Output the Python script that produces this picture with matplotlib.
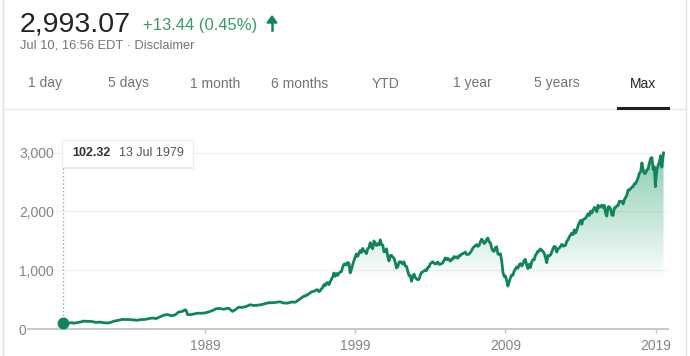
import matplotlib
matplotlib.use("Agg")
import matplotlib.pyplot as plt
import matplotlib.dates as mdates
import numpy as np
import pandas as pd

plt.rcParams['font.family'] = ['Liberation Sans', 'DejaVu Sans']

# S&P 500: quarterly-ish early on, monthly from 1995
early_dates = ['1979-07-13', '1979-09-30', '1979-10-31', '1979-12-31',
               '1980-02-29', '1980-03-31', '1980-06-30', '1980-09-30', '1980-11-30', '1980-12-31',
               '1981-03-31', '1981-06-30', '1981-09-30', '1981-12-31',
               '1982-03-31', '1982-07-31', '1982-09-30', '1982-12-31',
               '1983-03-31', '1983-06-30', '1983-09-30', '1983-12-31',
               '1984-03-31', '1984-06-30', '1984-09-30', '1984-12-31',
               '1985-03-31', '1985-06-30', '1985-09-30', '1985-12-31',
               '1986-03-31', '1986-06-30', '1986-09-30', '1986-12-31',
               '1987-03-31', '1987-06-30', '1987-08-31', '1987-09-30', '1987-10-31', '1987-12-31',
               '1988-03-31', '1988-06-30', '1988-09-30', '1988-12-31',
               '1989-03-31', '1989-06-30', '1989-09-30', '1989-12-31',
               '1990-03-31', '1990-06-30', '1990-07-31', '1990-10-31', '1990-12-31',
               '1991-03-31', '1991-06-30', '1991-09-30', '1991-12-31',
               '1992-03-31', '1992-06-30', '1992-09-30', '1992-12-31',
               '1993-03-31', '1993-06-30', '1993-09-30', '1993-12-31',
               '1994-03-31', '1994-06-30', '1994-09-30', '1994-12-31']
early_values = [102.32, 109.3, 101.8, 107.9,
                113.7, 102.1, 114.2, 125.5, 140.5, 135.8,
                136.0, 131.2, 116.2, 122.6,
                111.9, 107.1, 120.4, 140.6,
                152.9, 168.1, 166.1, 164.9,
                159.2, 153.2, 166.1, 167.2,
                180.7, 191.9, 182.1, 211.3,
                238.9, 250.8, 231.3, 242.2,
                291.7, 304.0, 329.8, 321.8, 251.8, 247.1,
                258.9, 273.5, 271.9, 277.7,
                294.9, 317.9, 349.2, 353.4,
                339.9, 358.0, 356.2, 304.0, 330.2,
                375.2, 371.2, 387.9, 417.1,
                403.7, 408.1, 418.5, 435.7,
                451.7, 450.5, 458.9, 466.5,
                445.8, 444.3, 462.7, 459.3]

monthly_start = '1995-01-31'
monthly_values = [
    470, 487, 500, 515, 533, 545, 562, 562, 584, 582, 605, 616,
    636, 640, 645, 654, 669, 671, 640, 652, 687, 706, 757, 741,
    786, 791, 757, 801, 848, 885, 954, 899, 947, 915, 955, 970,
    980, 1049, 1102, 1112, 1091, 1134, 1121, 957, 1017, 1099, 1164, 1229,
    1280, 1238, 1286, 1335, 1302, 1373, 1329, 1320, 1283, 1363, 1389, 1469,
    1394, 1366, 1499, 1452, 1421, 1455, 1431, 1518, 1437, 1429, 1315, 1320,
    1366, 1240, 1160, 1249, 1256, 1224, 1211, 1134, 1041, 1060, 1139, 1148,
    1130, 1107, 1147, 1077, 1067, 990, 912, 916, 815, 886, 936, 880,
    856, 841, 848, 917, 964, 975, 990, 1008, 996, 1051, 1058, 1112,
    1131, 1145, 1126, 1107, 1121, 1141, 1102, 1104, 1115, 1130, 1174, 1212,
    1181, 1204, 1181, 1157, 1192, 1191, 1234, 1220, 1229, 1207, 1249, 1248,
    1280, 1281, 1295, 1311, 1270, 1270, 1277, 1304, 1336, 1378, 1401, 1418,
    1438, 1407, 1421, 1482, 1531, 1503, 1455, 1474, 1527, 1549, 1481, 1468,
    1379, 1331, 1323, 1386, 1400, 1280, 1267, 1283, 1166, 969, 896, 903,
    826, 735, 798, 873, 919, 919, 987, 1021, 1057, 1036, 1096, 1115,
    1074, 1104, 1169, 1187, 1089, 1031, 1102, 1049, 1141, 1183, 1181, 1258,
    1286, 1327, 1326, 1364, 1345, 1321, 1292, 1219, 1131, 1253, 1247, 1258,
    1312, 1366, 1408, 1398, 1310, 1362, 1379, 1407, 1441, 1412, 1416, 1426,
    1498, 1515, 1569, 1598, 1631, 1606, 1686, 1633, 1682, 1757, 1806, 1848,
    1783, 1859, 1872, 1884, 1924, 1960, 1931, 2003, 1972, 2018, 2068, 2059,
    1995, 2105, 2068, 2086, 2107, 2063, 2104, 1972, 1920, 2079, 2080, 2044,
    1940, 1932, 2060, 2065, 2097, 2099, 2174, 2171, 2168, 2126, 2199, 2239,
    2279, 2364, 2363, 2384, 2412, 2423, 2470, 2472, 2519, 2575, 2648, 2674,
    2824, 2714, 2641, 2648, 2705, 2718, 2816, 2902, 2914, 2712, 2760, 2507,
    2704, 2784, 2834, 2946, 2752, 2942]
extra_dates = ['2018-12-24', '2019-07-10']
extra_values = [2420, 2993.07]

year_ticks = ['1989', '1999', '2009', '2019']
y_ticks = [0, 1000, 2000, 3000]
y_labels = ['0', '1,000', '2,000', '3,000']
tabs = ['1 day', '5 days', '1 month', '6 months', 'YTD', '1 year', '5 years', 'Max']
tab_x = [45, 129, 215, 300, 386, 472, 557, 643]

df = pd.concat([
    pd.DataFrame({'date': pd.to_datetime(early_dates), 'value': early_values}),
    pd.DataFrame({'date': pd.date_range(monthly_start, periods=len(monthly_values), freq='ME'),
                  'value': monthly_values}),
    pd.DataFrame({'date': pd.to_datetime(extra_dates), 'value': extra_values}),
]).sort_values('date').reset_index(drop=True)

GREEN = '#10855a'
GRAY = '#70757a'
W, H = 690, 356

fig = plt.figure(figsize=(W / 100, H / 100), dpi=100)
fig.patch.set_facecolor('white')


def fx(px):
    return px / W


def fy(py):
    return 1 - py / H


# header
fig.text(fx(20), fy(31.5), '2,993.07', fontsize=20.5, color='#222222', va='baseline')
fig.text(fx(143), fy(30), '+13.44 (0.45%)', fontsize=12, color='#3a9a6c', va='baseline')
fig.add_artist(plt.Line2D([fx(272), fx(272)], [fy(30), fy(21)], color=GREEN, lw=1.8))
fig.add_artist(plt.Polygon([[fx(267), fy(23)], [fx(277), fy(23)], [fx(272), fy(16)]],
                           closed=True, color=GREEN, transform=fig.transFigure))
fig.text(fx(20), fy(49), 'Jul 10, 16:56 EDT \u00b7 Disclaimer', fontsize=9.3, color=GRAY, va='baseline')
for t, x in zip(tabs, tab_x):
    fig.text(fx(x), fy(87.5), t, fontsize=10, ha='center', va='baseline',
             color='#222222' if t == 'Max' else GRAY)
fig.add_artist(plt.Line2D([fx(3), fx(686)], [fy(108.5), fy(108.5)], color='#e8e8e8', lw=1))
fig.add_artist(plt.Line2D([fx(618), fx(668)], [fy(108), fy(108)], color='#202124', lw=2.2))
fig.add_artist(plt.Line2D([fx(3), fx(3)], [0, 1], color='#dedede', lw=1))
fig.add_artist(plt.Line2D([fx(686), fx(686)], [0, 1], color='#e4e4e4', lw=1))

# chart
ax_left, ax_right, ax_bottom, ax_top = 28, 668, 329.3, 140
ax = fig.add_axes([fx(ax_left), fy(ax_bottom), (ax_right - ax_left) / W, (ax_bottom - ax_top) / H])
ytop = 3000 * (ax_bottom - ax_top) / (ax_bottom - 152.5)
xmin = mdates.date2num(pd.Timestamp('1977-03-21'))
xmax = mdates.date2num(pd.Timestamp('2019-10-27'))
ax.set_xlim(xmin, xmax)
ax.set_ylim(0, ytop)

xd = mdates.date2num(df['date'])
yd = df['value'].to_numpy()

for v in y_ticks[1:]:
    ax.axhline(v, color='#f2f2f2', lw=1, zorder=0)

# gradient fill under the line
poly = ax.fill_between(xd, yd, 0, color='none', lw=0)
yy = np.linspace(0, ytop, 300)
alpha = np.clip((yy - 800) / (3000 - 800), 0, 1) * 0.5
rgba = np.zeros((300, 2, 4))
rgba[..., 0] = 0x16 / 255
rgba[..., 1] = 0x9a / 255
rgba[..., 2] = 0x66 / 255
rgba[..., 3] = alpha[:, None]
img = ax.imshow(rgba, extent=[xmin, xmax, 0, ytop], origin='lower', aspect='auto',
                zorder=1, interpolation='bilinear')
img.set_clip_path(poly.get_paths()[0], transform=ax.transData)

ax.plot(xd, yd, color=GREEN, lw=2.0, zorder=3, solid_joinstyle='round')
ax.plot(xd[0], yd[0], 'o', color=GREEN, ms=7.5, zorder=4)
top_of_dots = (ax_bottom - 167) / (ax_bottom - ax_top) * ytop
ax.vlines(xd[0], yd[0], top_of_dots, colors='#9a9a9a', linestyles=(0, (1, 2)), lw=0.9, zorder=2)

for s in ['top', 'right', 'left']:
    ax.spines[s].set_visible(False)
ax.spines['bottom'].set_color('#c4c4c4')
ax.spines['bottom'].set_linewidth(1.3)

ax.set_xticks(mdates.date2num(pd.to_datetime(year_ticks)))
ax.set_xticklabels(year_ticks)
ax.tick_params(axis='x', length=3, width=1, color='#c4c4c4', labelsize=10,
               labelcolor='#80868b', pad=4)
ax.set_yticks(y_ticks)
ax.set_yticklabels(y_labels)
ax.tick_params(axis='y', length=0, labelsize=10, labelcolor='#80868b', pad=6.5)
for lab in ax.get_yticklabels():
    lab.set_horizontalalignment('left')
ax.set_facecolor('none')

# tooltip
fig.add_artist(plt.Rectangle((fx(63), fy(168.5)), 131 / W, 27 / H, transform=fig.transFigure,
                             facecolor='#000000', alpha=0.08, lw=0, zorder=5))
fig.add_artist(plt.Rectangle((fx(62), fy(167)), 131 / W, 27 / H, transform=fig.transFigure,
                             facecolor='white', edgecolor='#ececec', lw=0.8, zorder=6))
fig.text(fx(72), fy(156.5), '102.32', fontsize=9, fontweight='bold', color='#333333',
         va='baseline', zorder=7)
fig.text(fx(119), fy(156.5), '13 Jul 1979', fontsize=9, color='#555555', va='baseline', zorder=7)

fig.savefig('out.png', dpi=100)
